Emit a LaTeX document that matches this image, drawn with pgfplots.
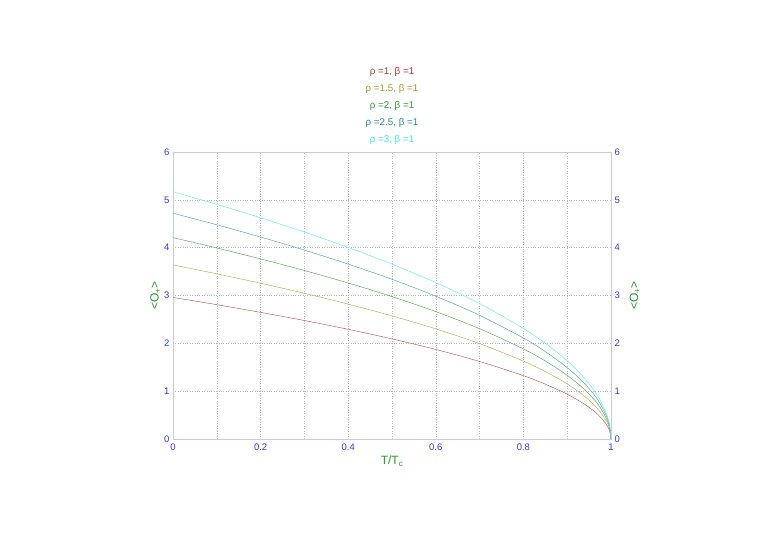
\documentclass[border=0pt]{standalone}
\usepackage{fontspec}
\setmainfont{Liberation Sans}
\usepackage{pgfplots}
\pgfplotsset{compat=1.18}
\usepackage{pgfplotstable}
\definecolor{cA}{RGB}{170,55,55}
\definecolor{cB}{RGB}{160,160,50}
\definecolor{cC}{RGB}{50,150,50}
\definecolor{cD}{RGB}{45,140,140}
\definecolor{cE}{RGB}{60,235,235}
\definecolor{labgreen}{RGB}{40,150,40}
\definecolor{tickblue}{RGB}{50,50,250}
\definecolor{axlav}{RGB}{200,200,232}

% order parameter vs T/Tc, columns rho = 1, 1.5, 2, 2.5, 3
\pgfplotstableread{
t     r1    r15   r2    r25   r3
0     2.960 3.640 4.210 4.720 5.170
0.1   2.808 3.453 3.994 4.478 4.905
0.2   2.647 3.256 3.765 4.222 4.624
0.3   2.477 3.046 3.522 3.949 4.326
0.4   2.293 2.820 3.261 3.656 4.005
0.5   2.093 2.574 2.977 3.338 3.656
0.6   1.872 2.302 2.663 2.985 3.270
0.7   1.621 1.994 2.306 2.585 2.832
0.8   1.324 1.628 1.883 2.111 2.312
0.85  1.146 1.410 1.631 1.828 2.002
0.9   0.936 1.151 1.331 1.492 1.635
0.94  0.725 0.891 1.031 1.156 1.266
0.97  0.513 0.630 0.729 0.818 0.895
0.99  0.296 0.364 0.421 0.472 0.517
0.997 0.162 0.199 0.231 0.259 0.283
1     0     0     0     0     0
}\opdata

\pgfplotsset{
  common/.style={
    at={(173pt,106pt)}, anchor=south west,
    scale only axis, width=438pt, height=287pt,
    xmin=0, xmax=1, ymin=0, ymax=6,
    ytick={0,1,...,6},
    axis line style={draw=axlav},
    major tick length=0pt, minor tick length=0pt,
    ticklabel style={font=\fontsize{9.5}{11}\selectfont, text=tickblue},
    label style={font=\fontsize{12}{14}\selectfont, text=labgreen},
    /pgf/number format/assume math mode=true,
  },
  curve/.style={#1!80!white, line width=0.5pt, smooth},
}

\begin{document}
\begin{tikzpicture}
\path[use as bounding box] (0pt,0pt) rectangle (783pt,545pt);
\begin{axis}[common,
  xtick={0,0.2,...,1}, minor xtick={0.1,0.3,...,0.9},
  xmajorgrids, xminorgrids, ymajorgrids,
  grid style={dotted, gray!55, line width=0.5pt},
  minor grid style={dotted, gray!55, line width=0.5pt},
  xlabel={T/T\textsubscript{c}}, ylabel={<O\textsubscript{+}>},
  xticklabel style={yshift=-1pt},
  xlabel style={yshift=1pt},
  ylabel style={yshift=-3pt},
  legend style={at={(0.5,1)}, anchor=south, yshift=4pt, draw=none, fill=none,
    font=\fontsize{9.8}{11}\selectfont, row sep=4.3pt},
  legend cell align=center,
  legend image code/.code={},
]
\addplot[curve=cA] table[x=t, y=r1] {\opdata};
\addlegendentry{\textcolor{cA}{ρ =1, β =1}}
\addplot[curve=cB] table[x=t, y=r15] {\opdata};
\addlegendentry{\textcolor{cB}{ρ =1.5, β =1}}
\addplot[curve=cC] table[x=t, y=r2] {\opdata};
\addlegendentry{\textcolor{cC}{ρ =2, β =1}}
\addplot[curve=cD] table[x=t, y=r25] {\opdata};
\addlegendentry{\textcolor{cD}{ρ =2.5, β =1}}
\addplot[curve=cE] table[x=t, y=r3] {\opdata};
\addlegendentry{\textcolor{cE}{ρ =3, β =1}}
\end{axis}
\begin{axis}[common,
  axis x line=none, axis y line*=right,
  ylabel={<O\textsubscript{+}>},
  ylabel style={yshift=-3pt},
]
\addplot[draw=none] coordinates {(0,0) (1,6)};
\end{axis}
\end{tikzpicture}
\end{document}
